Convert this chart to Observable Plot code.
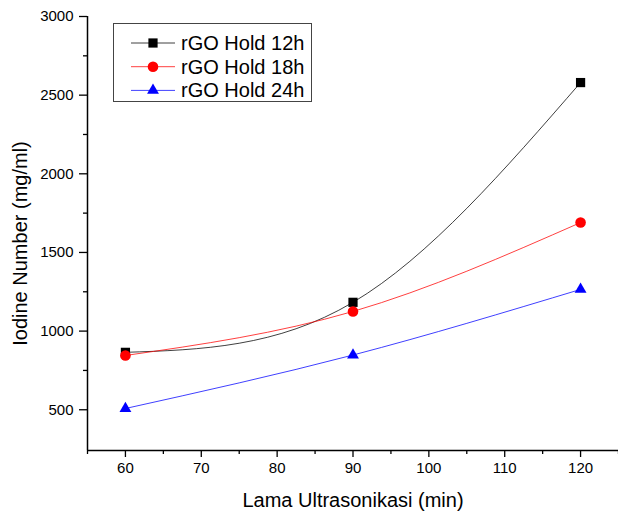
<!DOCTYPE html>
<html>
<head>
<meta charset="utf-8">
<script src="https://cdn.jsdelivr.net/npm/d3@7"></script>
<script src="https://cdn.jsdelivr.net/npm/@observablehq/plot@0.6"></script>
<style>
  body { margin: 0; background: #fff; }
  #wrap { position: relative; width: 618px; height: 512px; font-family: "Liberation Sans", Arial, sans-serif; }
  #legend { position: absolute; left: 113px; top: 23px; }
</style>
</head>
<body>
<div id="wrap"><div id="chart"></div><div id="legend"></div></div>
<script>
// ---- data ----
const minutes = [60, 90, 120];
const seriesNames = ["rGO Hold 12h", "rGO Hold 18h", "rGO Hold 24h"];
const hold12 = [865, 1183, 2580];
const hold18 = [845, 1125, 1690];
const hold24 = [508, 848, 1265];
const xMajorTicks = [60, 70, 80, 90, 100, 110, 120];
const xMinorTicks = [55, 65, 75, 85, 95, 105, 115, 125];
const yMajorTicks = [500, 1000, 1500, 2000, 2500, 3000];
const yMinorTicks = [750, 1250, 1750, 2250, 2750];
const xLabel = "Lama Ultrasonikasi (min)";
const yLabel = "Iodine Number (mg/ml)";

// ---- styles ----
const colors = ["#000000", "#ff0000", "#0000ff"];
const symbols = ["square", "circle", "triangle"];
const radii = [5.2, 5.3, 4.4];
const font = '"Liberation Sans", Arial, sans-serif';

const valueSets = [hold12, hold18, hold24];
const rows = [];
seriesNames.forEach((s, i) => minutes.forEach((m, j) => rows.push({series: s, minutes: m, value: valueSets[i][j]})));

const marks = [];
seriesNames.forEach((s, i) => {
  const data = rows.filter(r => r.series === s);
  marks.push(Plot.line(data, {x: "minutes", y: "value", stroke: colors[i], strokeWidth: 1, strokeOpacity: 0.75, curve: "natural"}));
});
seriesNames.forEach((s, i) => {
  const data = rows.filter(r => r.series === s);
  marks.push(Plot.dot(data, {x: "minutes", y: "value", symbol: () => symbols[i], r: radii[i], fill: colors[i], stroke: "none"}));
});

const chart = Plot.plot({
  width: 618,
  height: 512,
  marginLeft: 87,
  marginRight: 0,
  marginTop: 16,
  marginBottom: 62,
  style: {fontFamily: font, color: "#000", background: "#fff"},
  x: {domain: [55, 125]},
  y: {domain: [241, 3000]},
  marks: [
    ...marks,
    Plot.axisX({ticks: xMajorTicks, tickSize: 7, tickPadding: 5, fontSize: 15, strokeWidth: 1.3, tickFormat: d => String(d), label: null}),
    Plot.axisX({ticks: xMinorTicks, tickSize: 4, tickFormat: () => "", strokeWidth: 1.3, label: null}),
    Plot.axisX({ticks: [], tickSize: 0, label: xLabel, labelAnchor: "center", labelArrow: "none", labelOffset: 56, fontSize: 20}),
    Plot.axisY({ticks: yMajorTicks, tickSize: 8, tickPadding: 6, fontSize: 15, strokeWidth: 1.3, tickFormat: d => String(d), label: null}),
    Plot.axisY({ticks: yMinorTicks, tickSize: 4, tickFormat: () => "", strokeWidth: 1.3, label: null}),
    Plot.text([yLabel], {text: d => d, frameAnchor: "left", rotate: -90, dx: -67, dy: 10, fontSize: 20, textAnchor: "middle", lineAnchor: "middle", fill: "#000"}),
    Plot.ruleX([55], {strokeWidth: 1.5}),
    Plot.ruleY([241], {strokeWidth: 1.5})
  ]
});
document.getElementById("chart").appendChild(chart);

// ---- legend (inside the plot area, top-left) ----
const lw = 199, lh = 79;
const lsvg = d3.select("#legend").append("svg").attr("width", lw).attr("height", lh)
  .style("font-family", font);
lsvg.append("rect").attr("x", 0.5).attr("y", 0.5).attr("width", lw - 1).attr("height", lh - 1)
  .attr("fill", "#fff").attr("stroke", "#444").attr("stroke-width", 1);
const symMap = {square: d3.symbolSquare, circle: d3.symbolCircle, triangle: d3.symbolTriangle};
seriesNames.forEach((s, i) => {
  const cy = 20 + i * 23.7;
  const g = lsvg.append("g");
  g.append("line").attr("x1", 18).attr("x2", 62).attr("y1", cy).attr("y2", cy)
    .attr("stroke", colors[i]).attr("stroke-opacity", 0.75).attr("stroke-width", 1);
  g.append("path").attr("transform", `translate(40,${cy})`)
    .attr("d", d3.symbol(symMap[symbols[i]], Math.PI * radii[i] * radii[i])())
    .attr("fill", colors[i]);
  g.append("text").attr("x", 68).attr("y", cy).attr("dy", "0.35em")
    .attr("font-size", 20).attr("fill", "#000").text(s);
});
</script>
</body>
</html>
